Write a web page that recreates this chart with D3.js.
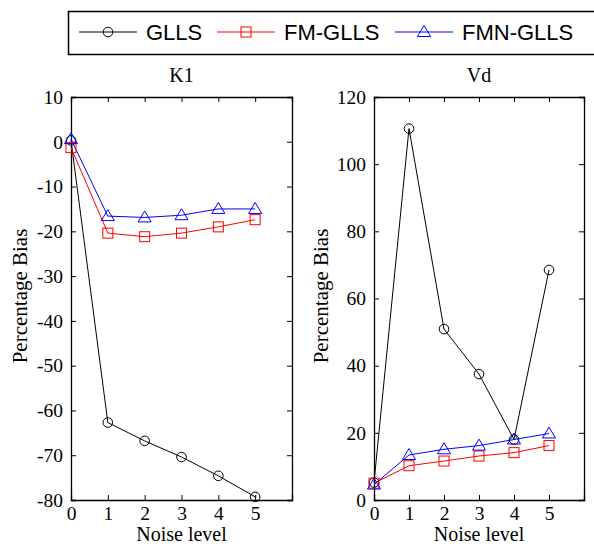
<!DOCTYPE html>
<html>
<head>
<meta charset="utf-8">
<script src="https://cdn.jsdelivr.net/npm/d3@7"></script>
<style>
body{margin:0;background:#fff;}
svg{display:block;}
</style>
</head>
<body>
<script>
// size of window
var width = 594, height = 546;

// data
var noise = [0, 1, 2, 3, 4, 5];
var seriesNames = ["GLLS", "FM-GLLS", "FMN-GLLS"];
var k1GLLS = [0.3, -62.7, -66.8, -70.4, -74.6, -79.3];
var k1FM = [-1.3, -20.4, -21.2, -20.4, -19.0, -17.4];
var k1FMN = [0.6, -16.6, -16.9, -16.4, -15.0, -15.0];
var vdGLLS = [5.2, 110.6, 50.9, 37.5, 18.0, 68.5];
var vdFM = [5.0, 10.2, 11.6, 13.1, 14.1, 16.2];
var vdFMN = [4.6, 13.4, 15.1, 16.2, 18.0, 19.8];
var k1Ticks = [10, 0, -10, -20, -30, -40, -50, -60, -70, -80];
var vdTicks = [0, 20, 40, 60, 80, 100, 120];
var xTicks = [0, 1, 2, 3, 4, 5];

var colors = {"GLLS": "#000", "FM-GLLS": "#ff0000", "FMN-GLLS": "#0000ff"};
var serif = "'Liberation Serif', 'Times New Roman', serif";
var sans = "'Liberation Sans', Arial, sans-serif";

var svg = d3.select("body").append("svg")
  .attr("width", width).attr("height", height);

// draw a marker of a series at x,y
function marker(g, name, x, y) {
  var c = colors[name];
  if (name == "GLLS") {
    g.append("circle").attr("cx", x).attr("cy", y).attr("r", 4.8)
      .attr("fill", "none").attr("stroke", c).attr("stroke-width", 1);
  } else if (name == "FM-GLLS") {
    g.append("rect").attr("x", x - 5).attr("y", y - 5).attr("width", 10).attr("height", 10)
      .attr("fill", "none").attr("stroke", c).attr("stroke-width", 1);
  } else {
    g.append("path").attr("d", "M" + x + "," + (y - 6.5) + "L" + (x + 6.5) + "," + (y + 4.5) + "L" + (x - 6.5) + "," + (y + 4.5) + "Z")
      .attr("fill", "none").attr("stroke", c).attr("stroke-width", 1);
  }
}

function fmt(d) { return String(d); }  // plain hyphen for negatives

function panel(opt) {
  var x = d3.scaleLinear().domain([0, 6]).range([opt.left, opt.right]);
  var y = d3.scaleLinear().domain(opt.domain).range([opt.bottom, opt.top]);
  var g = svg.append("g");

  // ticks inward on all four sides
  g.append("g").attr("transform", "translate(0," + opt.bottom + ")")
    .call(d3.axisBottom(x).tickValues(xTicks).tickSize(-5).tickPadding(6).tickFormat(fmt));
  g.append("g").attr("transform", "translate(0," + opt.top + ")")
    .call(d3.axisTop(x).tickValues(xTicks).tickSize(-5).tickFormat(""));
  g.append("g").attr("transform", "translate(" + opt.left + ",0)")
    .call(d3.axisLeft(y).tickValues(opt.ticks).tickSize(-5).tickPadding(8).tickFormat(fmt));
  g.append("g").attr("transform", "translate(" + opt.right + ",0)")
    .call(d3.axisRight(y).tickValues(opt.ticks).tickSize(-5).tickFormat(""));

  g.selectAll(".domain").attr("stroke", "#000").attr("stroke-width", 1.3);
  g.selectAll(".tick line").attr("stroke", "#000");
  g.selectAll(".tick text").style("font-family", serif).style("font-size", "19.5px").attr("fill", "#000");

  // lines + markers
  var line = d3.line().x(function(d, i) { return x(noise[i]); }).y(function(d) { return y(d); });
  opt.series.forEach(function(vals, k) {
    var name = seriesNames[k];
    g.append("path").attr("d", line(vals)).attr("fill", "none")
      .attr("stroke", colors[name]).attr("stroke-width", 1);
  });
  opt.series.forEach(function(vals, k) {
    vals.forEach(function(v, i) { marker(g, seriesNames[k], x(noise[i]), y(v)); });
  });

  g.append("text").attr("x", (opt.left + opt.right) / 2).attr("y", 82)
    .attr("text-anchor", "middle").style("font-family", serif).style("font-size", "20px")
    .text(opt.title);
  g.append("text").attr("x", (opt.left + opt.right) / 2).attr("y", 541)
    .attr("text-anchor", "middle").style("font-family", serif).style("font-size", "20px")
    .text("Noise level");
  g.append("text")
    .attr("transform", "translate(" + opt.ylabX + ",296) rotate(-90)")
    .attr("text-anchor", "middle").style("font-family", serif).style("font-size", "21px")
    .text("Percentage Bias");
}

panel({left: 71, right: 292, top: 97, bottom: 500, domain: [-80, 10], ticks: k1Ticks,
  series: [k1GLLS, k1FM, k1FMN], title: "K1", ylabX: 27});
panel({left: 374, right: 584, top: 97, bottom: 500, domain: [0, 120], ticks: vdTicks,
  series: [vdGLLS, vdFM, vdFMN], title: "Vd", ylabX: 328});

// legend
var leg = svg.append("g");
leg.append("rect").attr("x", 68.5).attr("y", 11.5).attr("width", 540).attr("height", 43)
  .attr("fill", "#fff").attr("stroke", "#000").attr("stroke-width", 1.5);
var legX = [79, 217, 395];
seriesNames.forEach(function(name, i) {
  leg.append("line").attr("x1", legX[i]).attr("x2", legX[i] + 58).attr("y1", 32).attr("y2", 32)
    .attr("stroke", colors[name]).attr("stroke-width", 1);
  marker(leg, name, legX[i] + 29, 32);
  leg.append("text").attr("x", legX[i] + 67).attr("y", 40)
    .style("font-family", sans).style("font-size", "22px").text(name);
});
</script>
</body>
</html>
